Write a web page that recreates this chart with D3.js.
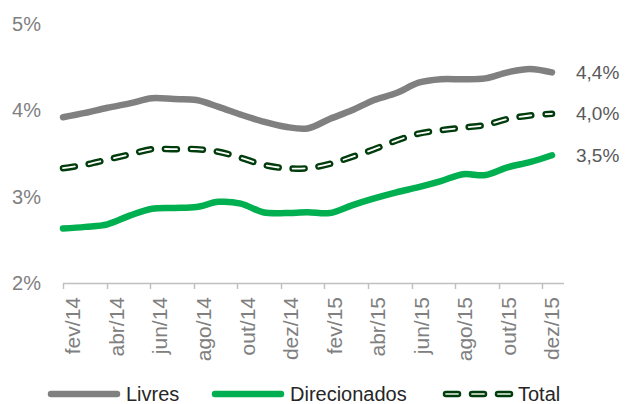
<!DOCTYPE html>
<html>
<head>
<meta charset="utf-8">
<script src="https://cdn.jsdelivr.net/npm/d3@7"></script>
<style>
  body { margin: 0; background: #fff; }
  text { font-family: "Liberation Sans", Arial, sans-serif; }
</style>
</head>
<body>
<script>
// monthly series fev/14 .. dez/15 (% a.m.)
var months = ["fev/14","mar/14","abr/14","mai/14","jun/14","jul/14","ago/14","set/14","out/14","nov/14","dez/14","jan/15",
              "fev/15","mar/15","abr/15","mai/15","jun/15","jul/15","ago/15","set/15","out/15","nov/15","dez/15"];
var livres =       [3.92,3.97,4.03,4.08,4.14,4.13,4.12,4.04,3.95,3.87,3.81,3.79,3.90,4.00,4.12,4.20,4.32,4.36,4.36,4.37,4.44,4.48,4.44];
var direcionados = [2.63,2.65,2.68,2.78,2.86,2.87,2.88,2.94,2.92,2.82,2.81,2.82,2.81,2.90,2.98,3.05,3.11,3.18,3.26,3.25,3.34,3.40,3.48];
var total =        [3.33,3.37,3.43,3.49,3.55,3.55,3.55,3.52,3.45,3.37,3.33,3.33,3.38,3.46,3.55,3.65,3.73,3.77,3.80,3.83,3.90,3.94,3.96];
var yTicks = [2, 3, 4, 5];
var endLabels = ["4,4%", "4,0%", "3,5%"];
var legendNames = ["Livres", "Direcionados", "Total"];

var W = 625, H = 404;
var svg = d3.select("body").append("svg")
    .attr("width", W)
    .attr("height", H);

// band axis for ticks/labels, point scale for the lines
var xBand = d3.scaleBand().domain(months).range([63, 564]);
var xPt = d3.scalePoint().domain(months).range([63, 552]);
var y = d3.scaleLinear().domain([2, 5]).range([283, 24]);

// y labels (no axis line)
svg.selectAll(".ylab")
    .data(yTicks)
    .enter().append("text")
    .attr("x", 41)
    .attr("y", function (d) { return y(d); })
    .attr("dy", "0.35em")
    .attr("text-anchor", "end")
    .style("font-size", "20px")
    .style("fill", "#808080")
    .text(function (d) { return d + "%"; });

// x axis: ticks every two months at band boundaries
var bounds = [];
for (var i = 0; i <= months.length; i += 2) bounds.push(i);
var xb = d3.scaleLinear().domain([0, months.length]).range(xBand.range());

svg.append("line")
    .attr("x1", xb(0)).attr("x2", xb(months.length))
    .attr("y1", 283.5).attr("y2", 283.5)
    .style("stroke", "#c0c0c0").style("stroke-width", 1.5);

svg.selectAll(".xtick")
    .data(bounds)
    .enter().append("line")
    .attr("x1", function (d) { return Math.round(xb(d)) + 0.5; })
    .attr("x2", function (d) { return Math.round(xb(d)) + 0.5; })
    .attr("y1", 283).attr("y2", 289)
    .style("stroke", "#c0c0c0").style("stroke-width", 1.5);

svg.selectAll(".xlab")
    .data(months.filter(function (d, i) { return i % 2 == 0; }))
    .enter().append("text")
    .attr("transform", function (d) {
        return "translate(" + (xBand(d) + xBand.bandwidth() / 2 - 1) + ",297)rotate(-90)";
    })
    .attr("dy", "0.35em")
    .attr("text-anchor", "end")
    .style("font-size", "21px")
    .style("fill", "#808080")
    .text(function (d) { return d; });

var line = d3.line()
    .x(function (d, i) { return xPt(months[i]); })
    .y(function (d) { return y(d); })
    .curve(d3.curveCatmullRom);

svg.append("path")
    .datum(livres)
    .attr("d", line)
    .style("fill", "none").style("stroke", "#808080")
    .style("stroke-width", 6.5).style("stroke-linecap", "round");

svg.append("path")
    .datum(direcionados)
    .attr("d", line)
    .style("fill", "none").style("stroke", "#00b050")
    .style("stroke-width", 6.5).style("stroke-linecap", "round");

// Total: dark dashes with a light core
svg.append("path")
    .datum(total)
    .attr("d", line)
    .style("fill", "none").style("stroke", "#003c0c")
    .style("stroke-width", 6.5).style("stroke-linecap", "round")
    .style("stroke-dasharray", "12,14");
svg.append("path")
    .datum(total)
    .attr("d", line)
    .style("fill", "none").style("stroke", "#ffffff")
    .style("stroke-width", 1.8).style("stroke-linecap", "round")
    .style("stroke-dasharray", "12,14");

// end values
var lastVals = [livres[livres.length - 1], total[total.length - 1], direcionados[direcionados.length - 1]];
svg.selectAll(".endlab")
    .data(endLabels)
    .enter().append("text")
    .attr("x", 576)
    .attr("y", function (d, i) { return y(lastVals[i]); })
    .attr("dy", "0.35em")
    .style("font-size", "19px")
    .style("fill", "#595959")
    .text(function (d) { return d; });

// legend
var legX = [48, 212, 443];
var legColors = ["#808080", "#00b050", "#003c0c"];
var leg = svg.selectAll(".leg")
    .data(legendNames)
    .enter().append("g")
    .attr("transform", function (d, i) { return "translate(" + legX[i] + ",394)"; });

leg.each(function (d, i) {
    var g = d3.select(this);
    if (i < 2) {
        g.append("line").attr("x1", 3).attr("x2", 69)
            .style("stroke", legColors[i]).style("stroke-width", 6.5)
            .style("stroke-linecap", "round");
    } else {
        g.append("line").attr("x1", 3).attr("x2", 69)
            .style("stroke", legColors[i]).style("stroke-width", 6.5)
            .style("stroke-linecap", "round").style("stroke-dasharray", "12,14");
        g.append("line").attr("x1", 3).attr("x2", 69)
            .style("stroke", "#b0c8b0").style("stroke-width", 1.8)
            .style("stroke-linecap", "round").style("stroke-dasharray", "12,14");
    }
    g.append("text")
        .attr("x", i < 2 ? 78 : 75)
        .attr("dy", "0.35em")
        .style("font-size", "20px")
        .style("fill", "#262626")
        .text(d);
});
</script>
</body>
</html>
